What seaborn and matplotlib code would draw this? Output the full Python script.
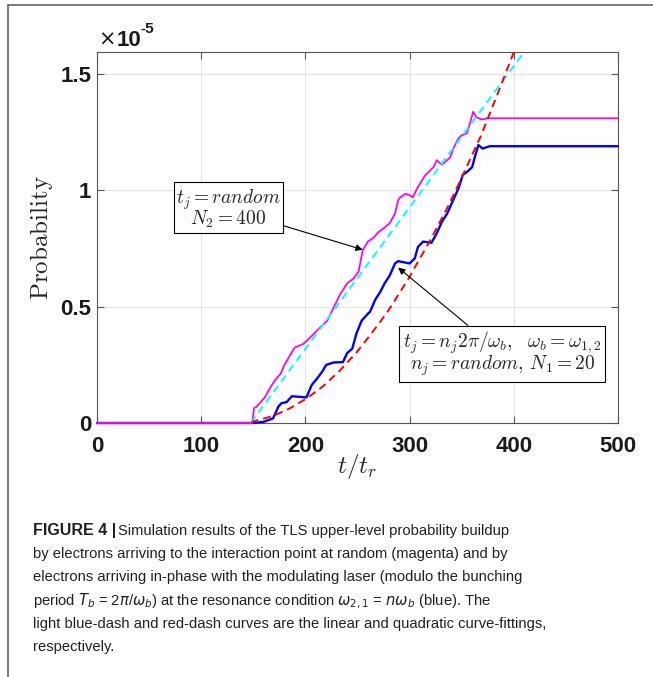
import matplotlib
matplotlib.use("Agg")
import matplotlib.pyplot as plt
from matplotlib.lines import Line2D
import seaborn as sns

# probability values are given in units of 1e-5
t_random = [0, 149, 150.7, 153, 161, 166, 171, 176, 180, 185, 190, 198, 204, 214, 221, 226,
            233, 240, 246, 251, 255, 260, 265, 270, 276, 281, 286, 289, 291, 296, 300, 303,
            308, 315, 320, 323, 326, 331, 336, 339, 342, 347, 350, 355, 358, 361, 364, 369,
            375, 500]
p_random = [0, 0, 0.064, 0.069, 0.11, 0.15, 0.185, 0.21, 0.25, 0.29, 0.325, 0.34, 0.365, 0.41,
            0.44, 0.486, 0.55, 0.60, 0.62, 0.65, 0.743, 0.78, 0.795, 0.82, 0.84, 0.86, 0.90,
            0.958, 0.97, 0.985, 0.98, 0.97, 1.015, 1.065, 1.087, 1.10, 1.13, 1.11, 1.13, 1.143,
            1.18, 1.225, 1.237, 1.245, 1.29, 1.338, 1.315, 1.305, 1.31, 1.31]

t_phase = [0, 150, 160, 169, 174, 177, 182, 187, 201, 206, 211, 216, 220, 227, 236, 240, 245,
           249, 254, 260, 262, 267, 272, 276, 281, 286, 289, 300, 305, 308, 313, 321, 326, 331,
           336, 341, 344, 347, 351, 356, 360, 363, 366, 370, 377, 500]
p_phase = [0, 0, 0.005, 0.02, 0.07, 0.085, 0.09, 0.115, 0.11, 0.163, 0.19, 0.22, 0.25, 0.26,
           0.262, 0.30, 0.32, 0.385, 0.44, 0.47, 0.478, 0.53, 0.565, 0.60, 0.635, 0.686, 0.696,
           0.686, 0.708, 0.757, 0.78, 0.775, 0.815, 0.865, 0.90, 0.95, 0.98, 1.01, 1.066, 1.083,
           1.10, 1.15, 1.195, 1.18, 1.19, 1.19]

# linear fit (light blue dash)
t_lin = [147.5, 414]
p_lin = [0, 1.62]

# quadratic fit (red dash)
t_quad = [148, 150, 169, 185, 201, 217, 233, 249, 260, 278, 300, 307, 320, 337, 348, 368,
          384, 404]
p_quad = [0, 0.007, 0.03, 0.063, 0.105, 0.158, 0.225, 0.303, 0.365, 0.472, 0.628, 0.685,
          0.787, 0.932, 1.036, 1.23, 1.41, 1.64]

xticks = [0, 100, 200, 300, 400, 500]
yticks = [0, 0.5, 1, 1.5]
ytick_labels = ["0", "0.5", "1", "1.5"]

sns.set_theme(style="white")
plt.rcParams["font.family"] = ["Liberation Sans", "DejaVu Sans"]
plt.rcParams["mathtext.fontset"] = "cm"

W, H = 653, 677
fig = plt.figure(figsize=(W / 100, H / 100), dpi=100)
ax = fig.add_axes([97 / W, 1 - 423 / H, (618 - 97) / W, (423 - 52) / H])

sns.lineplot(x=t_phase, y=p_phase, ax=ax, color="#0000ff", lw=1.7, estimator=None,
             sort=False, clip_on=False, zorder=3)
sns.lineplot(x=t_random, y=p_random, ax=ax, color="#ff00ff", lw=1.3, estimator=None,
             sort=False, clip_on=False, zorder=3)
sns.lineplot(x=t_lin, y=p_lin, ax=ax, color="#00ffff", lw=1.4, estimator=None, sort=False,
             linestyle=(0, (4, 2.6)), zorder=4)
sns.lineplot(x=t_quad, y=p_quad, ax=ax, color="#ff0000", lw=1.4, estimator=None, sort=False,
             linestyle=(0, (4, 2.6)), zorder=4)

ax.set_xlim(0, 500)
ax.set_ylim(0, 1.595)
ax.set_xticks(xticks)
ax.set_xticklabels([str(v) for v in xticks], fontsize=16, fontweight="bold", color="#1a1a1a")
ax.set_yticks(yticks)
ax.set_yticklabels(ytick_labels, fontsize=16, fontweight="bold", color="#1a1a1a")
ax.tick_params(direction="in", length=5, width=0.8, color="#555555", top=True, right=True,
               bottom=True, left=True)
ax.tick_params(axis="x", pad=9)
ax.tick_params(axis="y", pad=4)
ax.grid(True, color="#e4e4e4", lw=0.8)
ax.set_axisbelow(True)
for sp in ax.spines.values():
    sp.set_color("#555555")
    sp.set_linewidth(0.8)

ax.set_xlabel(r"$t/t_r$", fontsize=18)
ax.xaxis.set_label_coords(0.5, -0.078)
ax.set_ylabel(r"$\mathrm{Probability}$", fontsize=18)
ax.yaxis.set_label_coords(-0.081, 0.5)

# x10^-5 multiplier
fig.text(107 / W, 1 - 46 / H, "\u00d7", fontsize=15, ha="center", va="baseline",
         family=["DejaVu Sans"], color="#1a1a1a")
fig.text(117 / W, 1 - 46 / H, "10", fontsize=16, fontweight="bold", va="baseline",
         color="#1a1a1a")
fig.text(140 / W, 1 - 33 / H, "-5", fontsize=11, fontweight="bold", va="baseline",
         color="#1a1a1a")

arrow = dict(arrowstyle="-|>", color="black", lw=0.8, mutation_scale=10, shrinkA=0, shrinkB=0)
box = dict(boxstyle="square,pad=0.12", fc="white", ec="black", lw=0.8)
ax.annotate(r"$t_j = random$" + "\n" + r"$N_2 = 400$", xy=(255, 0.745), xytext=(126, 0.92),
            ha="center", va="center", multialignment="center", fontsize=14, linespacing=0.8,
            bbox=box, arrowprops=arrow, zorder=6)
box2 = dict(boxstyle="square,pad=0.2", fc="white", ec="black", lw=0.8)
ax.annotate(r"$t_j = n_j 2\pi/\omega_b,\ \ \omega_b = \omega_{1,2}$" + "\n"
            + r"$n_j = random,\, N_1 = 20$", xy=(289, 0.668), xytext=(389, 0.297),
            ha="center", va="center", multialignment="center", fontsize=14, linespacing=0.85,
            bbox=box2, arrowprops=arrow, zorder=6)

# frame around the figure panel
fig.add_artist(Line2D([8 / W, 1], [1 - 4.5 / H, 1 - 4.5 / H], transform=fig.transFigure,
                      color="#666666", lw=1.2))
fig.add_artist(Line2D([8 / W, 8 / W], [0, 1 - 4.5 / H], transform=fig.transFigure,
                      color="#666666", lw=1.2))

# caption
cap_font = ["Liberation Sans Narrow", "Liberation Sans", "DejaVu Sans"]
cap_size = 10.6
cap_color = "#231f20"
caption_lines = [
    "Simulation results of the TLS upper-level probability buildup",
    "by electrons arriving to the interaction point at random (magenta) and by",
    "electrons arriving in-phase with the modulating laser (modulo the bunching",
    r"period $T_b$ = 2$\pi$/$\omega_b$) at the resonance condition $\omega_{2,1}$ = $n\omega_b$ (blue). The",
    "light blue-dash and red-dash curves are the linear and quadratic curve-fittings,",
    "respectively.",
]
baselines = [535, 558, 581, 605, 628, 651]

head = fig.text(33 / W, 1 - baselines[0] / H, "FIGURE 4 |", fontsize=11.5,
                fontweight="bold", family=cap_font, color=cap_color, va="baseline")
renderer = fig.canvas.get_renderer()
x_end = head.get_window_extent(renderer).x1
for i, line in enumerate(caption_lines):
    x0 = (x_end + 2) / W if i == 0 else 33 / W
    fig.text(x0, 1 - baselines[i] / H, line, fontsize=cap_size, family=cap_font,
             color=cap_color, va="baseline", math_fontfamily="dejavusans")

fig.savefig("out.png", dpi=100)
